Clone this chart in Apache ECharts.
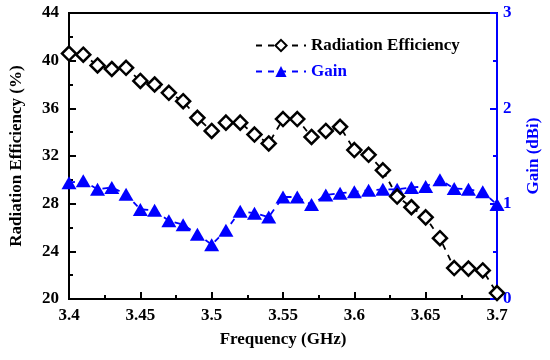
<!DOCTYPE html>
<html>
<head>
<meta charset="utf-8">
<script src="https://cdn.jsdelivr.net/npm/echarts@6/dist/echarts.min.js"></script>
<style>html,body{margin:0;padding:0;background:#fff}#c{width:550px;height:360px}</style>
</head>
<body>
<div id="c"></div>
<script>
const freq = [3.40,3.41,3.42,3.43,3.44,3.45,3.46,3.47,3.48,3.49,3.50,3.51,3.52,3.53,3.54,3.55,3.56,3.57,3.58,3.59,3.60,3.61,3.62,3.63,3.64,3.65,3.66,3.67,3.68,3.69,3.70];
const efficiency = [40.6,40.5,39.6,39.3,39.4,38.3,38.0,37.3,36.6,35.2,34.1,34.8,34.8,33.8,33.05,35.1,35.1,33.6,34.1,34.45,32.5,32.1,30.8,28.6,27.7,26.85,25.1,22.6,22.55,22.4,20.5];
const gain = [1.22,1.24,1.15,1.17,1.10,0.94,0.93,0.82,0.78,0.68,0.57,0.72,0.92,0.90,0.86,1.07,1.07,0.99,1.09,1.11,1.125,1.14,1.15,1.15,1.17,1.18,1.25,1.16,1.15,1.125,0.99];
const xTicks = ['3.4','3.45','3.5','3.55','3.6','3.65','3.7'];

const FONT = '"Liberation Serif","Times New Roman",serif';
const BLUE = '#0000ff';
const chart = echarts.init(document.getElementById('c'), null, {renderer:'canvas'});
const effData = freq.map((f,i)=>[f, efficiency[i]]);
const gainData = freq.map((f,i)=>[f, gain[i]]);
chart.setOption({
  animation:false,
  backgroundColor:'#fff',
  grid:{left:69,right:51,top:13,bottom:61,show:true,borderColor:'#000',borderWidth:2,backgroundColor:'transparent'},
  legend:{
    left:250, top:32, orient:'vertical', itemWidth:50, itemHeight:14, itemGap:9,
    textStyle:{fontFamily:FONT,fontWeight:'bold',fontSize:17,color:'#000'},
    data:[{name:'Radiation Efficiency',textStyle:{color:'#000'}},{name:'Gain',textStyle:{color:BLUE}}]
  },
  xAxis:{
    type:'value', min:3.4, max:3.7, interval:0.05,
    name:'Frequency (GHz)', nameLocation:'middle', nameGap:32,
    nameTextStyle:{fontFamily:FONT,fontWeight:'bold',fontSize:17,color:'#000'},
    axisLine:{lineStyle:{color:'#000',width:2}},
    axisTick:{inside:true,length:7,lineStyle:{color:'#000',width:2}},
    minorTick:{show:true,splitNumber:2,length:4,lineStyle:{color:'#000',width:2}},
    splitLine:{show:false},
    axisLabel:{margin:8,fontFamily:FONT,fontWeight:'bold',fontSize:17,color:'#000',
      formatter:(v)=>{const i=Math.round((v-3.4)/0.05);return xTicks[i]!==undefined?xTicks[i]:'';}}
  },
  yAxis:[{
    type:'value', min:20, max:44, interval:4, position:'left',
    name:'Radiation Efficiency (%)', nameLocation:'middle', nameGap:44,
    nameTextStyle:{fontFamily:FONT,fontWeight:'bold',fontSize:17,color:'#000'},
    axisLine:{show:true,lineStyle:{color:'#000',width:2}},
    axisTick:{show:true,inside:true,length:7,lineStyle:{color:'#000',width:2}},
    minorTick:{show:true,splitNumber:2,length:4,lineStyle:{color:'#000',width:2}},
    splitLine:{show:false},
    axisLabel:{margin:10,fontFamily:FONT,fontWeight:'bold',fontSize:17,color:'#000'}
  },{
    type:'value', min:0, max:3, interval:1, position:'right',
    name:'Gain (dBi)', nameLocation:'middle', nameGap:28,
    nameTextStyle:{fontFamily:FONT,fontWeight:'bold',fontSize:17,color:BLUE},
    axisLine:{show:true,lineStyle:{color:BLUE,width:2}},
    axisTick:{show:true,inside:true,length:7,lineStyle:{color:BLUE,width:2}},
    minorTick:{show:true,splitNumber:2,length:4,lineStyle:{color:BLUE,width:2}},
    splitLine:{show:false},
    axisLabel:{margin:6,fontFamily:FONT,fontWeight:'bold',fontSize:17,color:BLUE}
  }],
  series:[{
    name:'Radiation Efficiency', type:'line', yAxisIndex:0, data:effData, z:4,
    symbol:'diamond', symbolSize:14, clip:false,
    lineStyle:{color:'#000',width:1.8,type:[6,6]},
    itemStyle:{color:'#fff',borderColor:'#000',borderWidth:2.5}
  },{
    name:'Gain', type:'line', yAxisIndex:1, data:gainData, z:3,
    symbol:'triangle', symbolSize:[15,13], clip:false,
    lineStyle:{color:BLUE,width:1.8,type:[6,6]},
    itemStyle:{color:BLUE,borderColor:BLUE,borderWidth:0}
  }]
});
</script>
</body>
</html>
